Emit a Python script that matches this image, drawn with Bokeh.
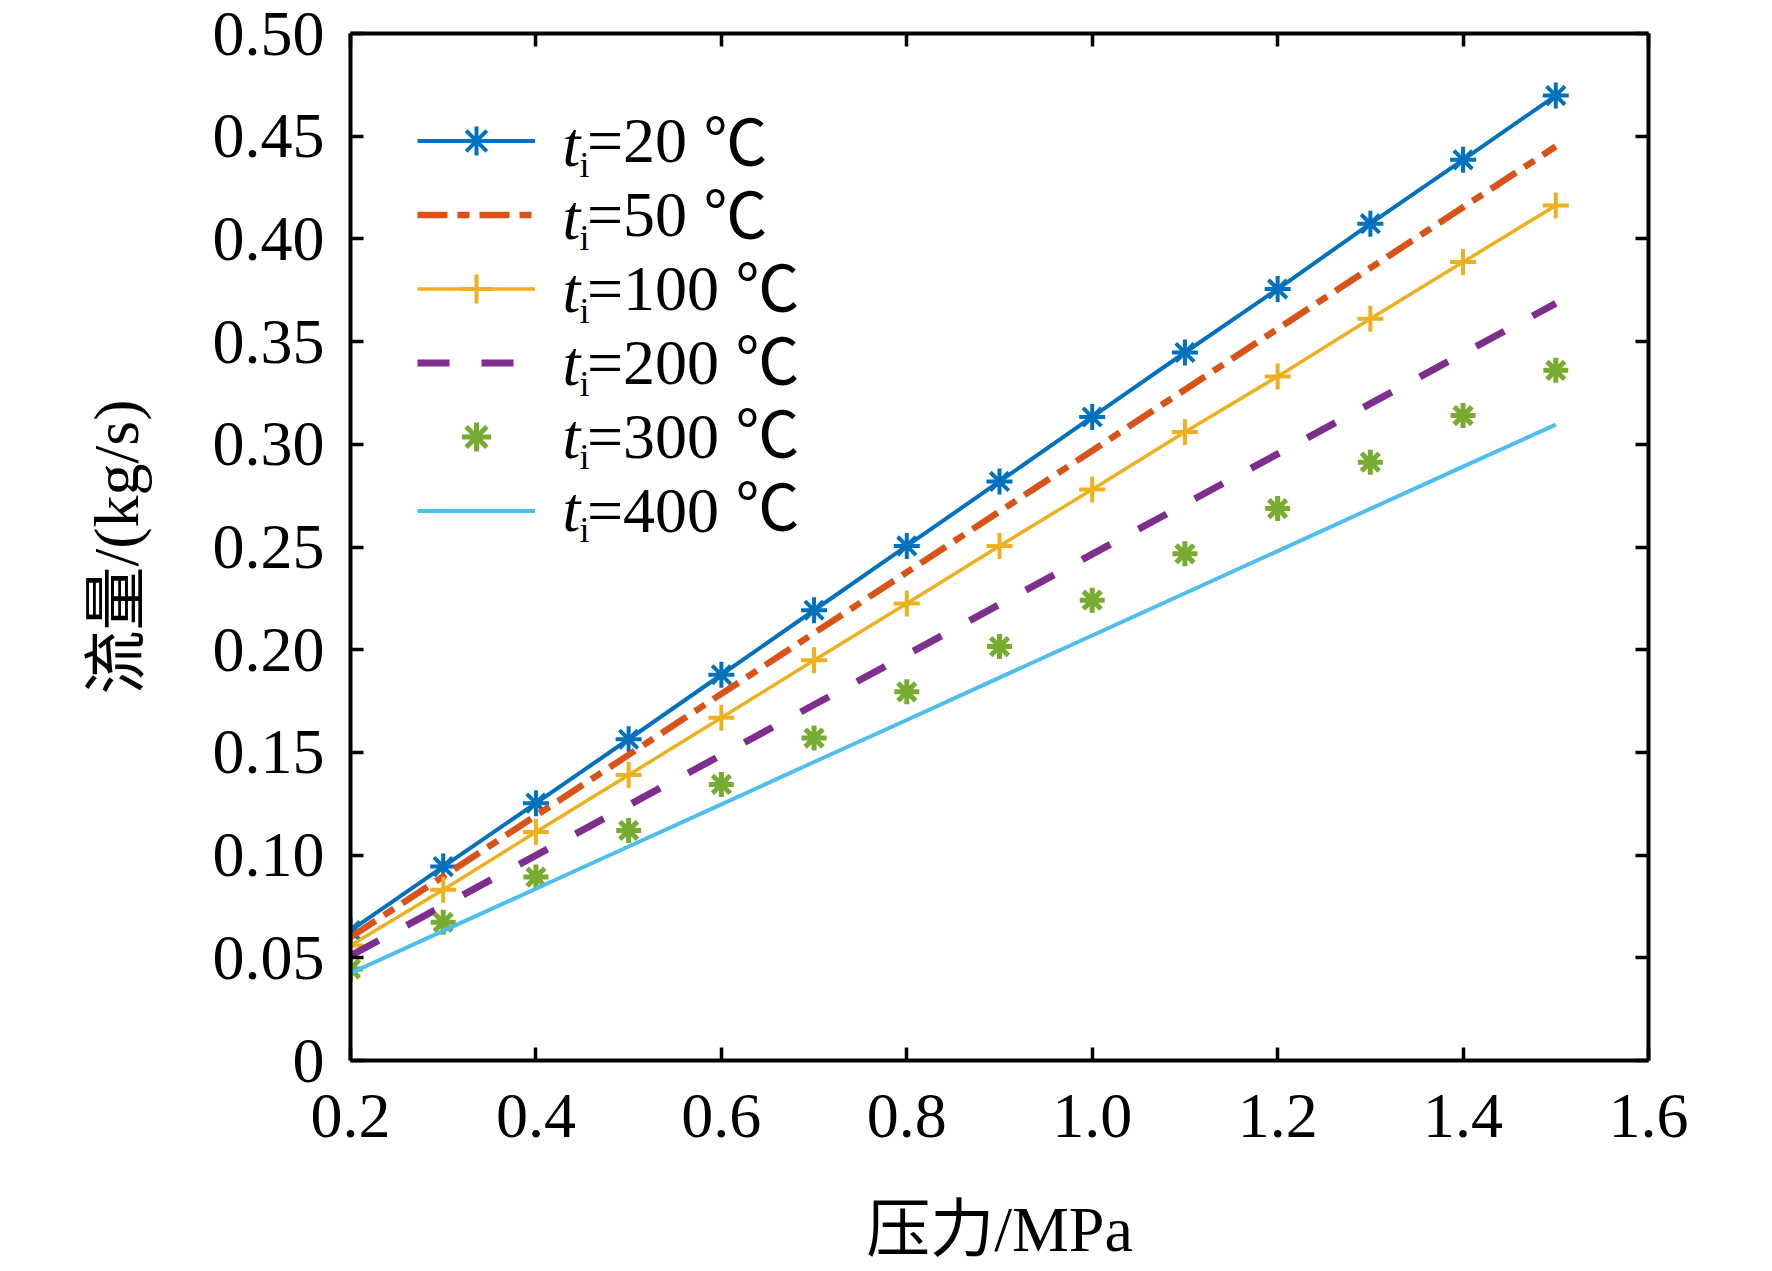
from bokeh.plotting import figure
from bokeh.models import FixedTicker, LinearAxis, Legend, LegendItem, Label, Range1d
from bokeh.embed import file_html
from bokeh.resources import INLINE

# ---------------- data ----------------
pressure = [0.2, 0.3, 0.4, 0.5, 0.6, 0.7, 0.8, 0.9, 1.0, 1.1, 1.2, 1.3, 1.4, 1.5]
flow_20 = [0.0633, 0.0944, 0.1253, 0.1564, 0.1878, 0.2192, 0.2505, 0.2819, 0.3133, 0.3447, 0.3756, 0.4074, 0.4385, 0.4698]
flow_50 = [0.0600, 0.0896, 0.1192, 0.1488, 0.1785, 0.2081, 0.2377, 0.2673, 0.2969, 0.3266, 0.3562, 0.3858, 0.4154, 0.4450]
flow_100 = [0.0560, 0.0831, 0.1112, 0.1390, 0.1669, 0.1949, 0.2225, 0.2505, 0.2780, 0.3060, 0.3330, 0.3611, 0.3887, 0.4163]
flow_200 = [0.0510, 0.0754, 0.0999, 0.1243, 0.1487, 0.1732, 0.1976, 0.2220, 0.2465, 0.2709, 0.2953, 0.3198, 0.3442, 0.3686]
flow_300 = [0.0446, 0.0673, 0.0893, 0.1120, 0.1344, 0.1570, 0.1795, 0.2015, 0.2241, 0.2467, 0.2687, 0.2913, 0.3140, 0.3360]
flow_400 = [0.0425, 0.0631, 0.0836, 0.1042, 0.1247, 0.1453, 0.1658, 0.1864, 0.2069, 0.2275, 0.2480, 0.2686, 0.2891, 0.3096]

legend_temps = ["20", "50", "100", "200", "300", "400"]
legend_symbol = "t"
legend_subscript = "i"
legend_unit = "℃"

x_ticks = [0.2, 0.4, 0.6, 0.8, 1.0, 1.2, 1.4, 1.6]
x_tick_labels = ["0.2", "0.4", "0.6", "0.8", "1.0", "1.2", "1.4", "1.6"]
y_ticks = [0, 0.05, 0.1, 0.15, 0.2, 0.25, 0.3, 0.35, 0.4, 0.45, 0.5]
y_tick_labels = ["0", "0.05", "0.10", "0.15", "0.20", "0.25", "0.30", "0.35", "0.40", "0.45", "0.50"]

x_title = "压力/MPa"
y_title = "流量/(kg/s)"

colors = ["#0072BD", "#D95319", "#EDB120", "#7E2F8E", "#77AC30", "#4DBEEE"]

# ---------------- layout constants ----------------
SERIF = "Liberation Serif, Noto Sans CJK SC"
LAT = "Liberation Serif"
CJK = "Noto Sans CJK SC"
FS = "64px"
EM = 64
X0, X1 = 0.2, 1.6
Y0, Y1 = 0.0, 0.5
F_LEFT, F_RIGHT, F_TOP, F_BOTTOM = 350, 1648, 33, 1060
W, H = 1772, 1271

p = figure(width=W, height=H, x_range=Range1d(X0, X1), y_range=Range1d(Y0, Y1),
           output_backend="svg", toolbar_location=None,
           x_axis_location=None, y_axis_location=None,
           min_border_left=F_LEFT, min_border_right=W - F_RIGHT,
           min_border_top=F_TOP, min_border_bottom=H - F_BOTTOM)
p.grid.visible = False
p.outline_line_color = None
p.background_fill_color = "white"
p.border_fill_color = "white"


def make_axis(ticks, labels, show_labels):
    ax = LinearAxis(ticker=FixedTicker(ticks=ticks))
    ax.axis_line_width = 4
    ax.axis_line_color = "black"
    ax.major_tick_line_width = 3.5
    ax.major_tick_line_color = "black"
    ax.major_tick_in = 13
    ax.major_tick_out = 0
    ax.minor_tick_line_color = None
    if show_labels:
        ax.major_label_overrides = {t: s for t, s in zip(ticks, labels)}
        ax.major_label_text_font = LAT
        ax.major_label_text_font_size = FS
        ax.major_label_text_color = "black"
    else:
        ax.major_label_overrides = {t: "" for t in ticks}
        ax.major_label_text_font_size = "0px"
        ax.major_label_text_color = None
        ax.major_label_standoff = 0
    return ax


xb = make_axis(x_ticks, x_tick_labels, True)
xb.major_label_standoff = 34
xb.axis_label = x_title
xb.axis_label_text_font = SERIF
xb.axis_label_text_font_size = FS
xb.axis_label_text_font_style = "normal"
xb.axis_label_text_color = "black"
xb.axis_label_standoff = 54
p.add_layout(xb, "below")

yl = make_axis(y_ticks, y_tick_labels, True)
yl.major_label_standoff = 26
yl.axis_label = y_title
yl.axis_label_text_font = SERIF
yl.axis_label_text_font_size = FS
yl.axis_label_text_font_style = "normal"
yl.axis_label_text_color = "black"
yl.axis_label_standoff = 58
p.add_layout(yl, "left")

p.add_layout(make_axis(x_ticks, x_tick_labels, False), "above")
p.add_layout(make_axis(y_ticks, y_tick_labels, False), "right")

# ---------------- series ----------------
r20 = p.line(pressure, flow_20, line_color=colors[0], line_width=4)
m20 = p.scatter(pressure, flow_20, marker="asterisk", size=26, line_color=colors[0], line_width=4)
r50 = p.line(pressure, flow_50, line_color=colors[1], line_width=6.5, line_dash="30 10 12 10")
r100 = p.line(pressure, flow_100, line_color=colors[2], line_width=3.5)
m100 = p.scatter(pressure, flow_100, marker="cross", size=26, line_color=colors[2], line_width=4)
r200 = p.line(pressure, flow_200, line_color=colors[3], line_width=7, line_dash="32 32")
m300 = p.scatter(pressure, flow_300, marker="asterisk", size=25, line_color=colors[4], line_width=5)
r400 = p.line(pressure, flow_400, line_color=colors[5], line_width=4)

groups = [[r20, m20], [r50], [r100, m100], [r200], [m300], [r400]]
items = [LegendItem(label="=" + t, renderers=g) for t, g in zip(legend_temps, groups)]

ROW0, PITCH = 146, 73
LABEL_X = 587
legend = Legend(items=items, location=(417 - F_LEFT, F_BOTTOM - (ROW0 - PITCH / 2 + 6 * PITCH)),
                orientation="vertical", padding=0, margin=0, spacing=0,
                glyph_width=118, glyph_height=PITCH, label_height=PITCH,
                label_standoff=LABEL_X - 535,
                label_text_font=LAT, label_text_font_size=FS, label_text_color="black",
                border_line_color=None, background_fill_alpha=0)
p.add_layout(legend)


def x_of(sx):
    return X0 + (sx - F_LEFT) / (F_RIGHT - F_LEFT) * (X1 - X0)


def y_of(sy):
    return Y0 + (F_BOTTOM - sy) / (F_BOTTOM - F_TOP) * (Y1 - Y0)


for k, t in enumerate(legend_temps):
    base = ROW0 - 2 + k * PITCH
    p.add_layout(Label(x=x_of(562), y=y_of(base), text=legend_symbol,
                       text_font=LAT, text_font_style="italic",
                       text_font_size=FS, text_baseline="alphabetic", text_align="left",
                       text_color="black"))
    p.add_layout(Label(x=x_of(579), y=y_of(base + 20), text=legend_subscript,
                       text_font=LAT, text_font_size="36px",
                       text_baseline="alphabetic", text_align="left", text_color="black"))
    # "=" (0.564 em) + digits (0.5 em each) + space (0.25 em)
    unit_x = LABEL_X + EM * (0.564 + 0.5 * len(t) + 0.25)
    p.add_layout(Label(x=x_of(unit_x), y=y_of(base - 8), text=legend_unit,
                       text_font=CJK, text_font_size=FS,
                       text_baseline="alphabetic", text_align="left", text_color="black"))

open("out.html", "w").write(file_html(p, INLINE))
